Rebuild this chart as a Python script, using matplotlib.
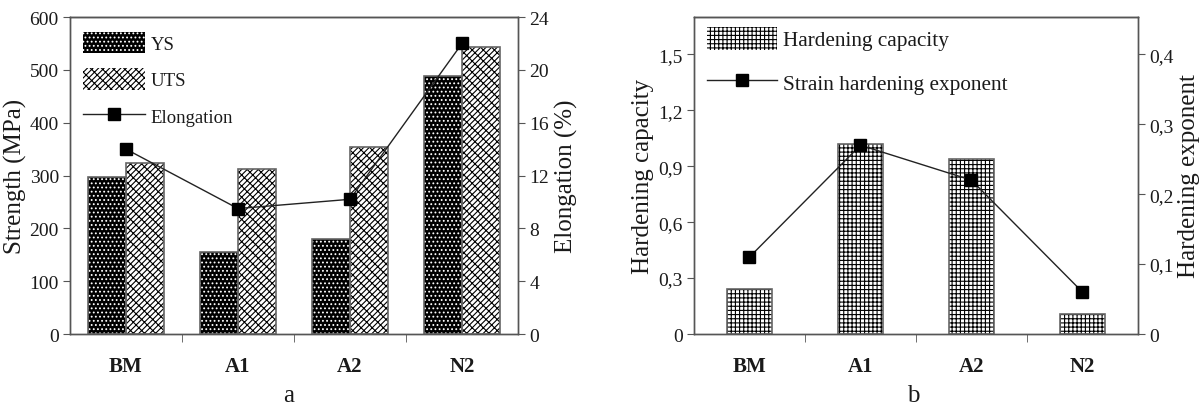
import matplotlib
matplotlib.use("Agg")
import matplotlib.pyplot as plt
import numpy as np
from matplotlib.ticker import FixedLocator, FuncFormatter
from matplotlib.patches import Patch
from matplotlib.lines import Line2D

plt.rcParams['font.family'] = ['Liberation Serif', 'DejaVu Serif']
plt.rcParams['hatch.linewidth'] = 0.8

categories = ['BM', 'A1', 'A2', 'N2']
ys_values = [298, 155, 180, 488]
uts_values = [323, 313, 354, 543]
elongation = [14.0, 9.5, 10.2, 22.0]
hardening_capacity = [0.24, 1.02, 0.94, 0.11]
hardening_exponent = [0.11, 0.27, 0.22, 0.06]

x = np.arange(len(categories))
fig = plt.figure(figsize=(12, 4.1), dpi=100)
ax1 = fig.add_axes([0.0583, 0.1829, 0.3734, 0.7731])
ax2 = fig.add_axes([0.5783, 0.1829, 0.37, 0.7731])

spine_c = '#555555'
edge_c = '#666666'
text_c = '#1a1a1a'
uts_hatch = '//////\\\\\\'

def style_axes(ax, axr):
    for a in (ax, axr):
        for s in a.spines.values():
            s.set_color(spine_c)
            s.set_linewidth(1.0)
    ax.spines['top'].set_color('black')
    ax.set_xlim(-0.5, 3.5)
    ax.set_xticks(x)
    ax.set_xticklabels(categories, fontweight='bold', fontsize=15, color=text_c)
    ax.xaxis.set_minor_locator(FixedLocator([0.5, 1.5, 2.5]))
    ax.tick_params(axis='x', which='major', length=0, pad=16)
    ax.tick_params(axis='x', which='minor', length=6, direction='out', color=spine_c)
    ax.tick_params(axis='y', length=5, direction='out', color=spine_c, labelsize=14, pad=3, labelcolor=text_c)
    axr.tick_params(axis='y', length=5, direction='out', color=spine_c, labelsize=14, pad=3, labelcolor=text_c)

# ---- Panel a ----
w = 0.34
axr1 = ax1.twinx()
ax1.bar(x - w/2, ys_values, w, color='black', edgecolor='white', hatch='....', linewidth=0, zorder=2)
ax1.bar(x - w/2, ys_values, w, fill=False, edgecolor=edge_c, linewidth=1.2, zorder=3)
ax1.bar(x + w/2, uts_values, w, color='white', edgecolor='black', hatch=uts_hatch, linewidth=0, zorder=2)
ax1.bar(x + w/2, uts_values, w, fill=False, edgecolor=edge_c, linewidth=1.2, zorder=3)
ax1.set_ylim(0, 600)
ax1.set_yticks(range(0, 601, 100))
ax1.set_ylabel('Strength (MPa)', fontsize=18, labelpad=2, color=text_c)
axr1.plot(x, elongation, color='#222222', lw=1.0, marker='s', ms=8, mfc='black', mec='black', zorder=5)
axr1.set_ylim(0, 24)
axr1.set_yticks(range(0, 25, 4))
axr1.set_ylabel('Elongation (%)', fontsize=18, labelpad=4, color=text_c)
style_axes(ax1, axr1)

h_ys = Patch(facecolor='black', edgecolor='white', hatch='....', linewidth=0)
h_uts = Patch(facecolor='white', edgecolor='black', hatch=uts_hatch, linewidth=0)
h_el = Line2D([], [], color='#222222', lw=1.0, marker='s', ms=8, mfc='black', mec='black')
ax1.legend([h_ys, h_uts, h_el], ['YS', 'UTS', 'Elongation'], loc='upper left',
           frameon=False, fontsize=13.5, handlelength=3.3, handleheight=1.4,
           labelspacing=0.8, handletextpad=0.3, borderaxespad=0.3,
           bbox_to_anchor=(0.0, 0.995), labelcolor=text_c)

# ---- Panel b ----
wb = 0.4
axr2 = ax2.twinx()
ax2.bar(x, hardening_capacity, wb, color='white', edgecolor='black', hatch='++++', linewidth=0, zorder=2)
ax2.bar(x, hardening_capacity, wb, fill=False, edgecolor=edge_c, linewidth=1.2, zorder=3)
ax2.set_ylim(0, 1.7)
ax2.set_yticks([0, 0.3, 0.6, 0.9, 1.2, 1.5])
fmt = FuncFormatter(lambda v, p: '0' if abs(v) < 1e-9 else ('%.1f' % v).replace('.', ','))
ax2.yaxis.set_major_formatter(fmt)
ax2.set_ylabel('Hardening capacity', fontsize=18, labelpad=3, color=text_c)
axr2.plot(x, hardening_exponent, color='#222222', lw=1.0, marker='s', ms=8, mfc='black', mec='black', zorder=5)
axr2.set_ylim(0, 0.4533)
axr2.set_yticks([0, 0.1, 0.2, 0.3, 0.4])
axr2.yaxis.set_major_formatter(fmt)
axr2.set_ylabel('Hardening exponent', fontsize=18, labelpad=3, color=text_c)
style_axes(ax2, axr2)

h_hc = Patch(facecolor='white', edgecolor='black', hatch='++++', linewidth=0)
ax2.legend([h_hc, h_el], ['Hardening capacity', 'Strain hardening exponent'], loc='upper left',
           frameon=False, fontsize=15.3, handlelength=3.3, handleheight=1.3,
           labelspacing=0.95, handletextpad=0.3, borderaxespad=0.2,
           bbox_to_anchor=(0.0, 1.01), labelcolor=text_c)

fig.text(289/1200, 1 - 396/410, 'a', fontsize=18, ha='center', va='center', color=text_c)
fig.text(913/1200, 1 - 396/410, 'b', fontsize=18, ha='center', va='center', color=text_c)

fig.savefig('out.png', dpi=100)
